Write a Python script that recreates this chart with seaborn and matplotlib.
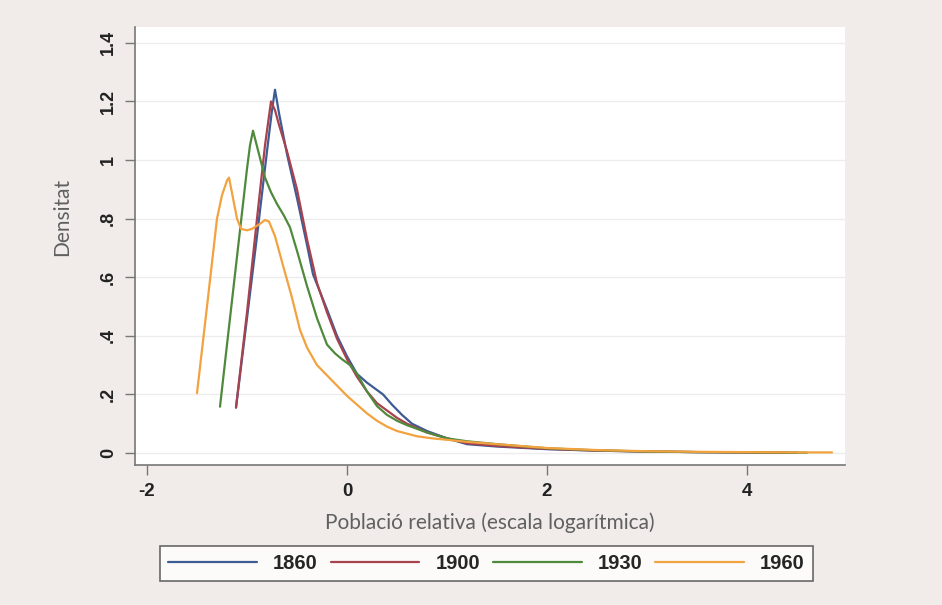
import pandas as pd
import numpy as np
import matplotlib
matplotlib.use("Agg")
import matplotlib.pyplot as plt
import seaborn as sns

# Density curves (x = log relative population, y = density)
years = ["1860", "1900", "1930", "1960"]

x_1860 = [-1.11, -1.0, -0.9, -0.8, -0.75, -0.72, -0.68, -0.6, -0.5, -0.4, -0.34, -0.2, -0.1,
          0.0, 0.1, 0.2, 0.3, 0.36, 0.45, 0.55, 0.65, 0.8, 1.0, 1.2, 1.5, 2.0, 2.5, 3.0, 3.5, 4.0, 4.5]
y_1860 = [0.155, 0.46, 0.74, 1.03, 1.17, 1.24, 1.16, 1.02, 0.87, 0.71, 0.61, 0.49, 0.40,
          0.33, 0.27, 0.24, 0.215, 0.20, 0.165, 0.13, 0.10, 0.075, 0.05, 0.03, 0.022, 0.013, 0.008, 0.005, 0.003, 0.002, 0.001]

x_1900 = [-1.11, -1.0, -0.9, -0.82, -0.76, -0.72, -0.68, -0.6, -0.5, -0.4, -0.3, -0.2, -0.1,
          0.0, 0.1, 0.2, 0.3, 0.4, 0.5, 0.6, 0.8, 1.0, 1.2, 1.5, 2.0, 2.5, 3.0, 3.5, 4.0, 4.4]
y_1900 = [0.155, 0.48, 0.80, 1.05, 1.20, 1.17, 1.12, 1.03, 0.90, 0.73, 0.58, 0.48, 0.39,
          0.32, 0.26, 0.21, 0.17, 0.145, 0.12, 0.10, 0.07, 0.05, 0.033, 0.024, 0.014, 0.008, 0.005, 0.003, 0.002, 0.001]

x_1930 = [-1.27, -1.2, -1.1, -1.0, -0.97, -0.94, -0.88, -0.82, -0.76, -0.7, -0.63, -0.57, -0.5,
          -0.4, -0.3, -0.2, -0.12, -0.05, 0.03, 0.1, 0.2, 0.3, 0.4, 0.5, 0.6, 0.8, 1.0, 1.2, 1.5,
          2.0, 2.5, 3.0, 3.5, 4.0, 4.6]
y_1930 = [0.158, 0.37, 0.67, 0.97, 1.05, 1.10, 1.02, 0.94, 0.89, 0.85, 0.81, 0.77, 0.69,
          0.57, 0.46, 0.37, 0.34, 0.32, 0.30, 0.27, 0.21, 0.16, 0.13, 0.11, 0.095, 0.07, 0.05, 0.04, 0.03,
          0.016, 0.009, 0.005, 0.003, 0.002, 0.001]

x_1960 = [-1.5, -1.4, -1.3, -1.25, -1.2, -1.18, -1.14, -1.1, -1.06, -1.0, -0.95, -0.88, -0.82,
          -0.78, -0.72, -0.64, -0.55, -0.47, -0.4, -0.3, -0.2, -0.1, 0.0, 0.1, 0.2, 0.3, 0.4, 0.5,
          0.7, 0.85, 1.0, 1.2, 1.5, 2.0, 2.5, 3.0, 3.5, 4.0, 4.5, 4.85]
y_1960 = [0.204, 0.50, 0.80, 0.88, 0.93, 0.94, 0.87, 0.80, 0.765, 0.76, 0.765, 0.78, 0.795,
          0.79, 0.74, 0.64, 0.53, 0.42, 0.36, 0.30, 0.265, 0.23, 0.195, 0.165, 0.135, 0.11, 0.09, 0.075,
          0.057, 0.05, 0.045, 0.038, 0.03, 0.017, 0.01, 0.006, 0.004, 0.003, 0.002, 0.002]

y_ticks = [0, 0.2, 0.4, 0.6, 0.8, 1.0, 1.2, 1.4]
y_tick_labels = ["0", ".2", ".4", ".6", ".8", "1", "1.2", "1.4"]
x_ticks = [-2, 0, 2, 4]
x_tick_labels = ["-2", "0", "2", "4"]

colors = ["#3e5c94", "#a8424f", "#4f8a3c", "#f2a23e"]

frames = []
for yr, xs, ys in zip(years, [x_1860, x_1900, x_1930, x_1960], [y_1860, y_1900, y_1930, y_1960]):
    frames.append(pd.DataFrame({"x": xs, "dens": ys, "year": yr}))
df = pd.concat(frames, ignore_index=True)

sns.set_theme(style="white")
plt.rcParams["font.family"] = ["Liberation Sans", "DejaVu Sans"]

bg = "#f1ecea"
fig = plt.figure(figsize=(9.42, 6.05), dpi=100, facecolor=bg)
ax = fig.add_axes([135 / 942, 1 - 465 / 605, 710 / 942, 438 / 605])
ax.set_facecolor("white")

sns.lineplot(data=df, x="x", y="dens", hue="year", palette=colors, sort=False,
             linewidth=1.6, ax=ax, legend=False)

ax.set_xlim(-2.12, 4.98)
ax.set_ylim(-0.041, 1.454)

ax.set_yticks(y_ticks)
ax.set_yticklabels(y_tick_labels, rotation=90, va="center", fontsize=13, fontweight="bold", color="#222222")
ax.set_xticks(x_ticks)
ax.set_xticklabels(x_tick_labels, fontsize=13.5, fontweight="bold", color="#222222")
ax.tick_params(axis="both", direction="out", length=7, width=1, color="#777777", pad=6,
               left=True, bottom=True)

for y in y_ticks:
    ax.axhline(y, color="#ececec", linewidth=1.0, zorder=0)

for side in ["top", "right"]:
    ax.spines[side].set_visible(False)
for side in ["left", "bottom"]:
    ax.spines[side].set_color("#777777")
    ax.spines[side].set_linewidth(1.2)

ax.set_xlabel("Població relativa (escala logarítmica)", fontsize=15, color="#606060",
              family=["Lato", "DejaVu Sans"], labelpad=9)
ax.set_ylabel("Densitat", fontsize=15, color="#606060",
              family=["Lato", "DejaVu Sans"])
ax.yaxis.set_label_coords(-0.088, 0.566)

handles = [plt.Line2D([], [], color=c, linewidth=1.6) for c in colors]
leg = fig.legend(handles, years, loc="lower left", ncol=4, mode="expand",
                 bbox_to_anchor=(160 / 942, 1 - 581 / 605, 653 / 942, 40 / 605),
                 frameon=True, fancybox=False, handlelength=4.4, borderaxespad=0,
                 prop={"size": 14.5, "weight": "bold"})
leg.get_frame().set_edgecolor("#444444")
leg.get_frame().set_linewidth(1.2)
leg.get_frame().set_facecolor("white")

fig.savefig("out.png", dpi=100, facecolor=bg)
